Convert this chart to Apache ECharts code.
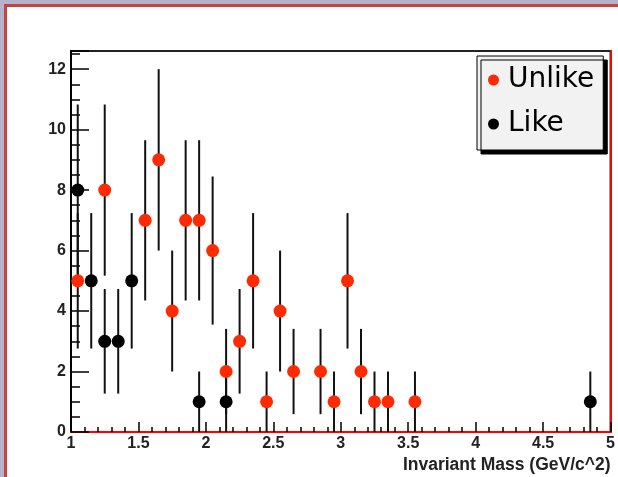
<!DOCTYPE html>
<html>
<head>
<meta charset="utf-8">
<script src="https://cdn.jsdelivr.net/npm/echarts@6/dist/echarts.min.js"></script>
<style>
html,body{margin:0;padding:0;background:#b6b2ce;}
#chart{width:618px;height:477px;}
</style>
</head>
<body>
<div id="chart"></div>
<script>
// Data (bin centres, counts, error half-lengths)
const unlikeX   = [1.05, 1.25, 1.55, 1.65, 1.75, 1.85, 1.95, 2.05, 2.15, 2.25, 2.35, 2.45, 2.55, 2.65, 2.85, 2.95, 3.05, 3.15, 3.25, 3.35, 3.55];
const unlikeY   = [5, 8, 7, 9, 4, 7, 7, 6, 2, 3, 5, 1, 4, 2, 2, 1, 5, 2, 1, 1, 1];
const unlikeErr = [2.24, 2.83, 2.65, 3.0, 2.0, 2.65, 2.65, 2.45, 1.41, 1.73, 2.24, 1.0, 2.0, 1.41, 1.41, 1.0, 2.24, 1.41, 1.0, 1.0, 1.0];

const likeX   = [1.05, 1.15, 1.25, 1.35, 1.45, 1.95, 2.15, 4.85];
const likeY   = [8, 5, 3, 3, 5, 1, 1, 1];
const likeErr = [2.83, 2.24, 1.73, 1.73, 2.24, 1.0, 1.0, 1.0];

const xTitle = 'Invariant Mass (GeV/c^2)';
const legendNames = ['Unlike', 'Like'];

const RED = '#ff2a00';
const BLACK = '#000000';

function pts(xs, ys) { return xs.map((x, i) => [x, ys[i]]); }
function errPts(xs, ys, es) { return xs.map((x, i) => [x, ys[i], es[i]]); }

function errRender(params, api) {
  const x = api.value(0), y = api.value(1), e = api.value(2);
  const lo = api.coord([x, Math.max(0, y - e)]);
  const hi = api.coord([x, y + e]);
  return {
    type: 'line',
    shape: { x1: lo[0], y1: lo[1], x2: hi[0], y2: hi[1] },
    style: { stroke: '#111', lineWidth: 2 }
  };
}

const chart = echarts.init(document.getElementById('chart'), null, { renderer: 'canvas' });

chart.setOption({
  backgroundColor: '#b6b2ce',
  animation: false,
  graphic: [
    { type: 'rect', z: -100, shape: { x: 4, y: 4, width: 700, height: 600 }, style: { fill: '#c4443f' } },
    { type: 'rect', z: -99, shape: { x: 7, y: 7, width: 700, height: 600 }, style: { fill: '#ffffff' } }
  ],
  grid: {
    left: 71, right: 7, top: 51, bottom: 45,
    show: true, borderColor: '#222', borderWidth: 2, backgroundColor: 'transparent'
  },
  legend: {
    data: legendNames,
    orient: 'vertical',
    left: 477, top: 56,
    padding: [6, 9, 8, 11],
    itemGap: 8,
    itemWidth: 11, itemHeight: 11,
    backgroundColor: '#f2f2f2',
    borderColor: '#000', borderWidth: 1,
    shadowColor: '#000', shadowBlur: 0, shadowOffsetX: 4, shadowOffsetY: 4,
    textStyle: { fontFamily: 'DejaVu Sans', fontSize: 28, color: '#000', lineHeight: 36, padding: [0, 0, 0, 4] }
  },
  xAxis: {
    type: 'value', min: 1, max: 5, interval: 0.5,
    name: xTitle,
    nameLocation: 'end', nameGap: 0,
    nameTextStyle: { align: 'right', verticalAlign: 'top', padding: [24, 0, 0, 0],
      fontFamily: 'Liberation Sans', fontWeight: 'bold', fontSize: 17.5, color: '#222' },
    axisLine: { show: true, onZero: false, lineStyle: { color: '#ff0000', width: 2 } },
    axisTick: { show: true, inside: true, length: 10, lineStyle: { color: '#000', width: 1.5 } },
    minorTick: { show: true, splitNumber: 5, length: 5, lineStyle: { color: '#000', width: 1.5 } },
    axisLabel: { margin: 4, fontFamily: 'Liberation Sans', fontWeight: 'bold', fontSize: 16, color: '#222' },
    splitLine: { show: false }
  },
  yAxis: [{
    type: 'value', min: 0, max: 12.6, interval: 2,
    axisLine: { show: true, onZero: false, lineStyle: { color: '#000', width: 2 } },
    axisTick: { show: true, inside: true, length: 18, lineStyle: { color: '#000', width: 1.5 } },
    minorTick: { show: true, splitNumber: 4, length: 9, lineStyle: { color: '#000', width: 1.5 } },
    axisLabel: { margin: 5, showMaxLabel: false, fontFamily: 'Liberation Sans', fontWeight: 'bold', fontSize: 16, color: '#222' },
    splitLine: { show: false }
  }, {
    type: 'value', min: 0, max: 12.6, position: 'right',
    axisLine: { show: true, lineStyle: { color: '#ff0000', width: 2 } },
    axisTick: { show: false }, axisLabel: { show: false }, splitLine: { show: false }
  }],
  series: [
    { name: 'UnlikeErr', type: 'custom', renderItem: errRender, data: errPts(unlikeX, unlikeY, unlikeErr), z: 3, silent: true },
    { name: 'LikeErr', type: 'custom', renderItem: errRender, data: errPts(likeX, likeY, likeErr), z: 3, silent: true },
    { name: 'Unlike', type: 'scatter', symbol: 'circle', symbolSize: 13, data: pts(unlikeX, unlikeY),
      itemStyle: { color: RED, opacity: 1 }, z: 4 },
    { name: 'Like', type: 'scatter', symbol: 'circle', symbolSize: 13, data: pts(likeX, likeY),
      itemStyle: { color: BLACK, opacity: 1 }, z: 5 }
  ]
});
</script>
</body>
</html>
